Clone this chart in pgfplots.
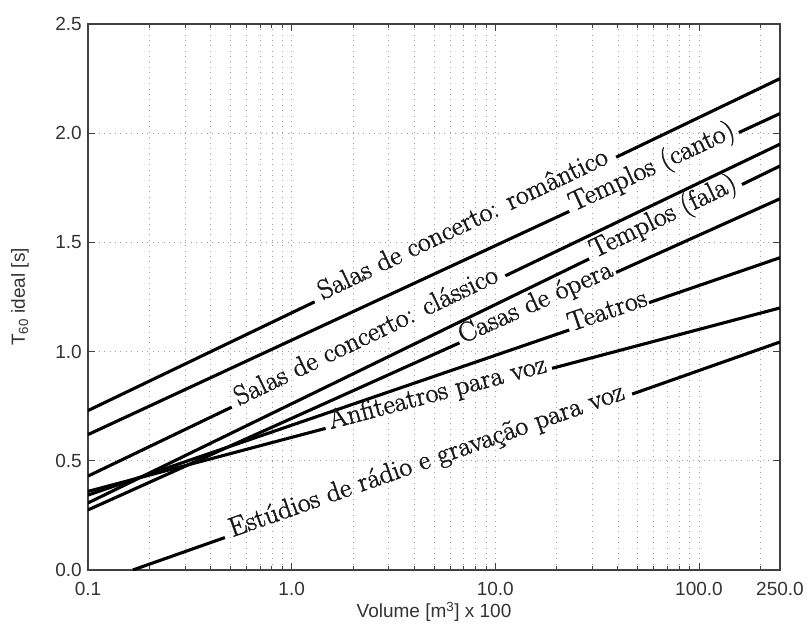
\documentclass[border=0pt]{standalone}
\usepackage{fontspec}
\setsansfont{Liberation Sans}
\usepackage{pgfplots}
\pgfplotsset{compat=1.18}
\newfontfamily\labfont{Latin Modern Roman}[FakeBold=1.6]
\tikzset{lab/.style={anchor=mid, inner sep=0pt, font=\labfont\fontsize{27.5}{32}\selectfont, text=black!90},
  seg/.style={black, solid, line width=3.1pt, mark=none}}
\begin{document}
\begin{tikzpicture}
\useasboundingbox (-88pt,-65pt) rectangle (722pt,570pt);
\begin{axis}[
  at={(0,0)}, anchor=south west,
  scale only axis, width=692pt, height=546pt,
  xmode=log, xmin=0.1, xmax=250, ymin=0, ymax=2.5,
  xtick={0.1,1,10,100,250}, xticklabels={0.1,1.0,10.0,100.0,250.0},
  minor xtick={0.2,0.3,0.4,0.5,0.6,0.7,0.8,0.9,2,3,4,5,6,7,8,9,20,30,40,50,60,70,80,90,200},
  ytick={0,0.5,1,1.5,2,2.5}, yticklabels={0.0,0.5,1.0,1.5,2.0,2.5},
  xmajorgrids=true, xminorgrids=true, ymajorgrids=true,
  grid style={gray!75, line width=0.7pt, dash pattern=on 0.8pt off 4.6pt},
  minor grid style={gray!75, line width=0.7pt, dash pattern=on 0.8pt off 4.6pt},
  axis line style={line width=1.1pt, black!75},
  tick style={black!75, line width=0.9pt},
  tick align=inside, major tick length=7pt, minor tick length=4pt,
  ticklabel style={font=\sffamily\fontsize{19}{22}\selectfont, text=black!80},
  xticklabel style={inner sep=0pt, anchor=north, yshift=-12pt},
  yticklabel style={inner sep=0pt, anchor=east, xshift=-6pt},
  xlabel={Volume [m\textsuperscript{3}] x 100},
  ylabel={T\textsubscript{60} ideal [s]},
  label style={font=\sffamily\fontsize{19}{22}\selectfont, text=black!80},
  xlabel style={at={(axis description cs:0.5,-0.077)}, anchor=center},
  ylabel style={at={(axis description cs:-0.0983,0.5)}, anchor=center},
]
% Salas de concerto: romantico
\addplot[seg] coordinates {(0.1,0.73) (1.297,1.228)};
\addplot[seg] coordinates {(39.2,1.890) (250,2.250)};
% Templos (canto)
\addplot[seg] coordinates {(0.1,0.62) (23.07,1.642)};
\addplot[seg] coordinates {(157,2.003) (250,2.09)};
% Salas de concerto: classico
\addplot[seg] coordinates {(0.1,0.43) (0.508,0.746)};
\addplot[seg] coordinates {(11.2,1.347) (250,1.95)};
% Templos (fala)
\addplot[seg] coordinates {(0.1,0.307) (28.9,1.4245)};
\addplot[seg] coordinates {(162.6,1.765) (250,1.85)};
% Casas de opera
\addplot[seg] coordinates {(0.1,0.275) (6.67,1.040)};
\addplot[seg] coordinates {(39.2,1.3625) (250,1.70)};
% Teatros
\addplot[seg] coordinates {(0.1,0.343) (23.07,1.099)};
\addplot[seg] coordinates {(56.9,1.224) (250,1.43)};
% Anfiteatros para voz
\addplot[seg] coordinates {(0.1,0.36) (1.468,0.6485)};
\addplot[seg] coordinates {(19.0,0.9234) (250,1.20)};
% Estudios de radio e gravacao para voz
\addplot[seg] coordinates {(0.166,0) (0.47,0.1485)};
\addplot[seg] coordinates {(47.0,0.8055) (250,1.044)};

\node[lab, rotate=25.6] at (axis cs:7.13,1.559) {Salas de concerto: romântico};
\node[lab, rotate=24.85] at (axis cs:60.2,1.8225) {Templos (canto)};
\node[lab, rotate=25.6] at (axis cs:2.385,1.0465) {Salas de concerto: clássico};
\node[lab, rotate=25.9] at (axis cs:68.55,1.595) {Templos (fala)};
\node[lab, rotate=24.2] at (axis cs:16.17,1.201) {Casas de ópera};
\node[lab, rotate=18.9] at (axis cs:36.23,1.1615) {Teatros};
\node[lab, rotate=14.8] at (axis cs:5.28,0.786) {Anfiteatros para voz};
\node[lab, rotate=19.4] at (axis cs:4.7,0.477) {Estúdios de rádio e gravação para voz};
\end{axis}
\end{tikzpicture}
\end{document}
